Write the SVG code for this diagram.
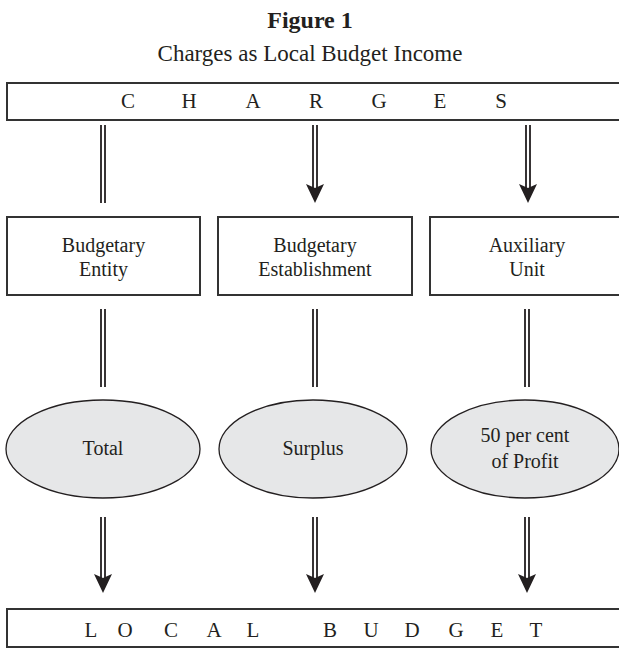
<svg xmlns="http://www.w3.org/2000/svg" width="619" height="648" viewBox="0 0 619 648">
<style>
text{font-family:"Liberation Serif","Times New Roman",serif;fill:#231f20}
.t{font-size:20px;text-anchor:middle}
.s{font-size:21px;text-anchor:middle}
.box{fill:#fff;stroke:#333;stroke-width:2}
.ell{fill:#e6e7e8;stroke:#231f20;stroke-width:1.3}
.dl{stroke:#231f20;stroke-width:1.8;fill:none}
.ah{fill:#231f20}
</style>
<rect width="619" height="648" fill="#fff"/>
<text x="310" y="28" style="font-size:24px;font-weight:bold;text-anchor:middle">Figure 1</text>
<text x="310" y="61" style="font-size:23px;text-anchor:middle">Charges as Local Budget Income</text>

<g id="charges">
<rect class="box" x="7" y="83" width="620" height="37"/>
<text class="s" y="108"><tspan x="128">C</tspan><tspan x="189">H</tspan><tspan x="253">A</tspan><tspan x="316">R</tspan><tspan x="379">G</tspan><tspan x="440">E</tspan><tspan x="501">S</tspan></text>
</g>
<g id="entity">
<rect class="box" x="7" y="217" width="193" height="78"/>
<text class="t" x="103.5" y="252">Budgetary</text>
<text class="t" x="103.5" y="276">Entity</text>
</g>
<g id="establishment">
<rect class="box" x="218" y="217" width="194" height="78"/>
<text class="t" x="315" y="252">Budgetary</text>
<text class="t" x="315" y="276">Establishment</text>
</g>
<g id="auxiliary">
<rect class="box" x="430" y="217" width="197" height="78"/>
<text class="t" x="527" y="252">Auxiliary</text>
<text class="t" x="527" y="276">Unit</text>
</g>
<g id="total">
<ellipse class="ell" cx="103" cy="449" rx="97" ry="49"/>
<text class="t" x="103" y="455">Total</text>
</g>
<g id="surplus">
<ellipse class="ell" cx="313" cy="449" rx="94" ry="49"/>
<text class="t" x="313" y="455">Surplus</text>
</g>
<g id="profit">
<ellipse class="ell" cx="525" cy="449" rx="94" ry="49"/>
<text class="t" x="525" y="442">50 per cent</text>
<text class="t" x="525" y="468">of Profit</text>
</g>
<g id="local-budget">
<rect class="box" x="7" y="609" width="620" height="38"/>
<text class="s" y="637"><tspan x="91">L</tspan><tspan x="125">O</tspan><tspan x="171">C</tspan><tspan x="214">A</tspan><tspan x="253">L</tspan><tspan x="330">B</tspan><tspan x="371">U</tspan><tspan x="412">D</tspan><tspan x="456">G</tspan><tspan x="497">E</tspan><tspan x="536">T</tspan></text>
</g>

<g id="connectors">
<path class="dl" d="M101 125V203M105 125V203"/>
<path class="dl" d="M313 125V192M317 125V192"/>
<polygon class="ah" points="306,184 315,188 324,184 315,203"/>
<path class="dl" d="M526 125V192M530 125V192"/>
<polygon class="ah" points="519,184 528,188 537,184 528,203"/>

<path class="dl" d="M101 309V387M105 309V387"/>
<path class="dl" d="M313 309V387M317 309V387"/>
<path class="dl" d="M525 309V387M529 309V387"/>

<path class="dl" d="M101 517V583M105 517V583"/>
<polygon class="ah" points="94,574 103,578 112,574 103,593"/>
<path class="dl" d="M313 517V583M317 517V583"/>
<polygon class="ah" points="306,574 315,578 324,574 315,593"/>
<path class="dl" d="M525 517V583M529 517V583"/>
<polygon class="ah" points="518,574 527,578 536,574 527,593"/>
</g>
</svg>
